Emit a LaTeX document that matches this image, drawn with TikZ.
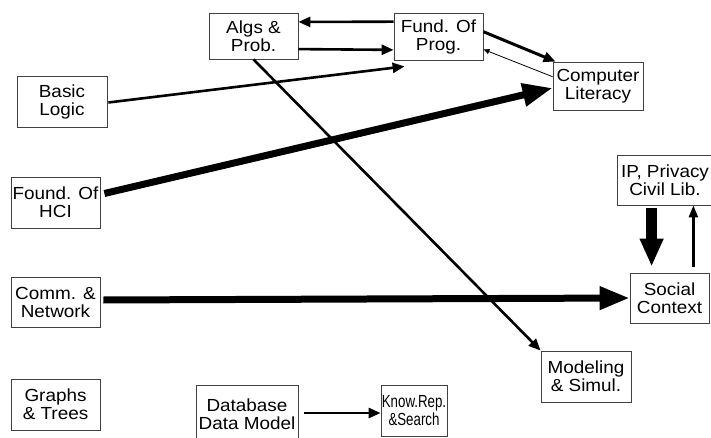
\documentclass[tikz,border=0pt]{standalone}
\usepackage{fontspec}
\setmainfont{Liberation Sans}[FakeStretch=1.08]
\newfontfamily\narrowfont{Liberation Sans}[FakeStretch=0.76]
\usetikzlibrary{arrows.meta,calc}
\tikzset{
  box/.style={draw=black!75, line width=0.8pt, fill=white, inner sep=0pt, align=center,
    font=\fontsize{17.5}{18}\selectfont},
  conn/.style={draw=black, line width=2.6pt, -{Triangle[length=12pt,width=10pt]}},
  thinconn/.style={draw=black, line width=0.8pt, -{Triangle[length=6pt,width=5pt]}},
  heavy/.style={draw=black, line width=7pt, -{Triangle[length=30pt,width=22pt]}},
  vheavy/.style={draw=black, line width=11pt, -{Triangle[length=28pt,width=22pt]}},
}
\begin{document}
\begin{tikzpicture}[x=1pt,y=-1pt]
\useasboundingbox (0,0) rectangle (711,438);
\clip (0,0) rectangle (711,438);
\fill[white] (0,0) rectangle (711,438);
% boxes
\node[box, minimum width=89pt, minimum height=46pt] (algs) at (253.5,36) {Algs \&\\Prob.};
\node[box, minimum width=89pt, minimum height=47pt] (fund) at (438.5,36.5) {Fund. Of\\Prog.};
\node[box, minimum width=90pt, minimum height=48pt] (comp) at (598,86) {Computer\\Literacy};
\node[box, minimum width=90pt, minimum height=51pt] (basic) at (62,101.5) {Basic\\Logic};
\node[box, minimum width=89pt, minimum height=51pt] (hci) at (55.5,202.5) {Found. Of\\HCI};
\node[box, minimum width=89pt, minimum height=50pt] (comm) at (55.5,302) {Comm. \&\\Network};
\node[box, minimum width=89pt, minimum height=51pt] (graphs) at (55.5,404.5) {Graphs\\\& Trees};
\node[box, minimum width=102pt, minimum height=58pt] (db) at (247,414) {Database\\Data Model};
\node[box, minimum width=66pt, minimum height=51pt, font=\fontsize{17.5}{18}\narrowfont] (know) at (414,410.5) {Know.Rep.\\\&Search};
\node[box, minimum width=90pt, minimum height=51pt] (model) at (586,376.5) {Modeling\\\& Simul.};
\node[box, minimum width=96pt, minimum height=50pt] (ip) at (665,180) {IP, Privacy\\Civil Lib.};
\node[box, minimum width=79pt, minimum height=50pt] (social) at (669.5,298) {Social\\Context};
% connectors
\draw[conn] ($(fund.north west)!0.19!(fund.south west)$) -- ($(algs.north east)!0.2!(algs.south east)$);
\draw[conn] ($(algs.north east)!0.78!(algs.south east)$) -- ($(fund.north west)!0.78!(fund.south west)$);
\draw[conn, line width=3pt] ($(fund.north east)!0.4!(fund.south east)$) -- ($(comp.north west)+(3,0)$);
\draw[thinconn] ($(comp.north west)!0.31!(comp.south west)$) -- ($(fund.north east)!0.77!(fund.south east)$);
\draw[conn] ($(basic.east)+(1,1)$) -- ($(fund.south west)+(11,6)$);
\draw[heavy] ($(hci.east)+(4,-9)$) -- ($(comp.west)+(0,2)$);
\draw[conn] (algs.south) -- (model.north west);
\draw[heavy] ($(comm.east)+(3,-2)$) -- (social.west);
\draw[vheavy] ($(ip.south west)+(35,3)$) -- ($(social.north west)+(22,-6)$);
\draw[conn, line width=2.4pt, -{Triangle[length=12pt,width=9pt]}] ($(social.north east)+(-16,-6)$) -- ($(ip.south east)+(-20,0)$);
\draw[conn] ($(db.east)+(6,-1)$) -- ($(know.west)+(0,2.5)$);
\end{tikzpicture}
\end{document}
